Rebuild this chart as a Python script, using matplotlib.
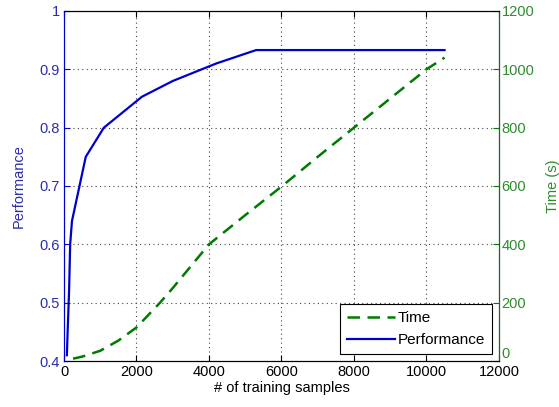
import matplotlib.pyplot as plt

plt.rcParams['font.family'] = ['Liberation Sans', 'DejaVu Sans']

# performance curve
perf_x = [80, 100, 140, 170, 220, 600, 1100, 2150, 3000, 4200, 5300, 7000, 10500]
perf_y = [0.41, 0.45, 0.52, 0.60, 0.64, 0.75, 0.80, 0.853, 0.88, 0.91, 0.933, 0.933, 0.933]

# training time curve
time_x = [250, 500, 1000, 1500, 2000, 2650, 3000, 4000, 5000, 6000, 7000, 8000, 9000, 10000, 10500]
time_y = [8, 15, 35, 70, 115, 200, 250, 400, 500, 598, 700, 800, 900, 1000, 1040]

blue = '#0000cc'
green = '#007a00'

fig = plt.figure(figsize=(5.59, 4.07), dpi=100)
ax = fig.add_axes([0.1145, 0.113, 0.778, 0.86])
ax2 = ax.twinx()

l1, = ax.plot(perf_x, perf_y, color=blue, lw=1.6)
l2, = ax2.plot(time_x, time_y, color=green, lw=1.8, ls=(0, (5, 3)))

ax.set_xlim(0, 12000)
ax.set_ylim(0.4, 1.0)
ax2.set_ylim(0, 1200)
ax.set_xticks(range(0, 12001, 2000))
ax.set_yticks([0.4, 0.5, 0.6, 0.7, 0.8, 0.9, 1.0])
ax.set_yticklabels(['0.4', '0.5', '0.6', '0.7', '0.8', '0.9', '1'])
ax2.set_yticks(range(0, 1201, 200))

ax.grid(True, ls=(0, (1, 3)), color='#444444', lw=0.8)

ax.tick_params(axis='both', direction='in', labelsize=10.5, length=4, top=True, pad=3)
ax.tick_params(axis='y', colors=blue, labelcolor='#2b2bb0')
ax.tick_params(axis='x', colors='black')
ax2.tick_params(axis='y', direction='in', colors=green, labelcolor='#2e8b2e',
                labelsize=10.5, length=4, pad=2)
# keep the bottom "0" of the right axis just above the x tick labels
ax2.get_yticklabels()[0].set_verticalalignment('bottom')

ax.set_xlabel('# of training samples', fontsize=10.5, labelpad=1)
ax.set_ylabel('Performance', fontsize=10.5, color='#2b2bb0', labelpad=10)
ax2.set_ylabel('Time (s)', fontsize=10.5, color='#2e8b2e', labelpad=8)

for a in (ax, ax2):
    a.spines['top'].set_color('black')
    a.spines['bottom'].set_color('black')
ax2.spines['left'].set_color(blue)
ax2.spines['right'].set_color(green)

leg = ax2.legend([l2, l1], ['Time', 'Performance'], loc='lower right', fontsize=11,
                 fancybox=False, edgecolor='black', framealpha=1,
                 borderaxespad=0.45, handlelength=3.1, labelspacing=0.55,
                 handletextpad=0.2, borderpad=0.45)
leg.get_frame().set_linewidth(0.8)

fig.savefig('out.png', dpi=100)
